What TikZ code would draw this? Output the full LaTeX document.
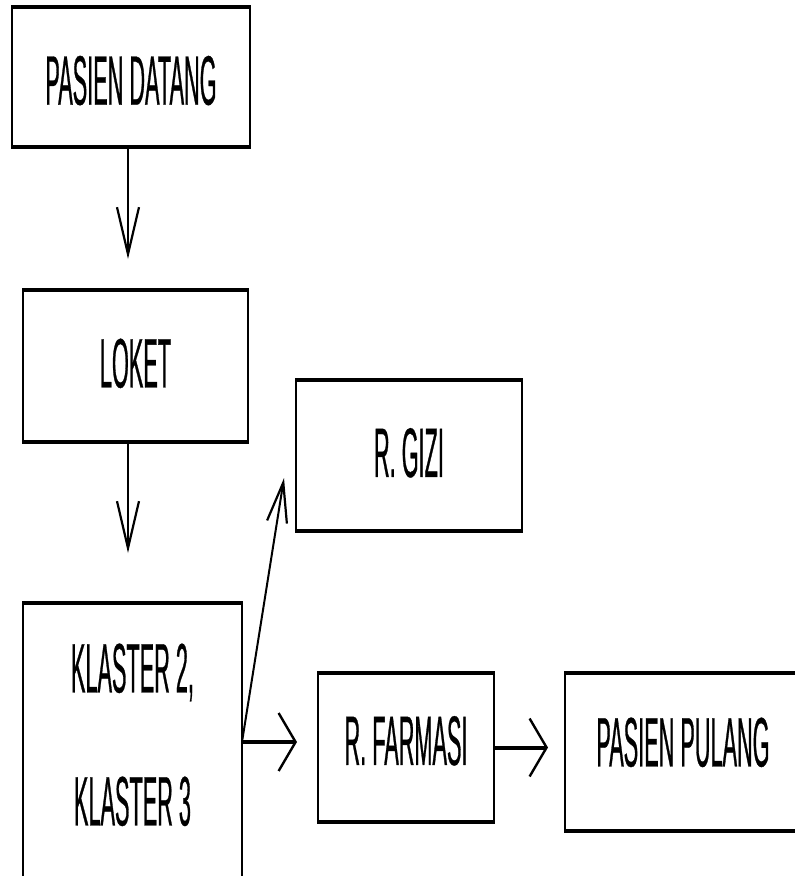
\documentclass[tikz,border=0pt]{standalone}
\usepackage{fontspec}
\newfontfamily\nfont[FakeStretch=0.31,FakeBold=0.4]{Liberation Sans}
\usetikzlibrary{arrows.meta}
\begin{document}
\begin{tikzpicture}[x=1pt,y=-1pt,
  box/.style={draw, line width=2pt, outer sep=0pt, inner sep=0pt,
    font=\nfont\fontsize{70}{133}\selectfont, align=center},
  hedge/.style={line width=4.5pt},
  varrow/.style={line width=1.4pt, -{Straight Barb[length=47pt,width=22pt,line width=2.2pt]}},
  harrow/.style={line width=4pt, -{Straight Barb[length=17pt,width=58pt,line width=2.4pt]}},
  darrow/.style={line width=2pt, -{Straight Barb[length=40pt,width=20pt,line width=2.2pt]}}]
\useasboundingbox (0,0) rectangle (795,876);
\fill[white] (0,0) rectangle (795,876);

\node[box, minimum width=238pt, minimum height=140pt, text height=56pt] (datang) at (131,77) {PASIEN DATANG};
\node[box, minimum width=225pt, minimum height=152pt, text depth=6pt] (loket) at (135.5,366) {LOKET};
\node[box, minimum width=219pt, minimum height=278pt, text depth=15pt] (klaster) at (132.5,742) {KLASTER 2,\\KLASTER 3};
\node[box, minimum width=226pt, minimum height=151pt, text depth=6pt] (gizi) at (409,455.5) {R. GIZI};
\node[box, minimum width=176pt, minimum height=149pt, text depth=14pt] (farmasi) at (406,747.5) {R. FARMASI};
\node[box, minimum width=236pt, minimum height=158pt, text depth=20pt] (pulang) at (683,752) {PASIEN PULANG};

\foreach \n in {datang,loket,klaster,gizi,farmasi,pulang}
  \draw[hedge] ([xshift=-1pt]\n.north west) -- ([xshift=1pt]\n.north east)
               ([xshift=-1pt]\n.south west) -- ([xshift=1pt]\n.south east);

\coordinate (gizitip) at (284,478);
\draw[varrow, shorten >=31pt] ([xshift=-3pt]datang.south) -- ([xshift=-3pt]datang.south |- loket.north);
\draw[varrow, shorten >=50pt] ([xshift=-7.5pt]loket.south) -- ([xshift=-7.5pt]loket.south |- klaster.north);
\draw[darrow] (klaster.east) -- (gizitip);
\draw[harrow, shorten >=21pt] (klaster.east) -- (klaster.east -| farmasi.west);
\draw[harrow, shorten >=17pt] (farmasi.east) -- (farmasi.east -| pulang.west);
\end{tikzpicture}
\end{document}
